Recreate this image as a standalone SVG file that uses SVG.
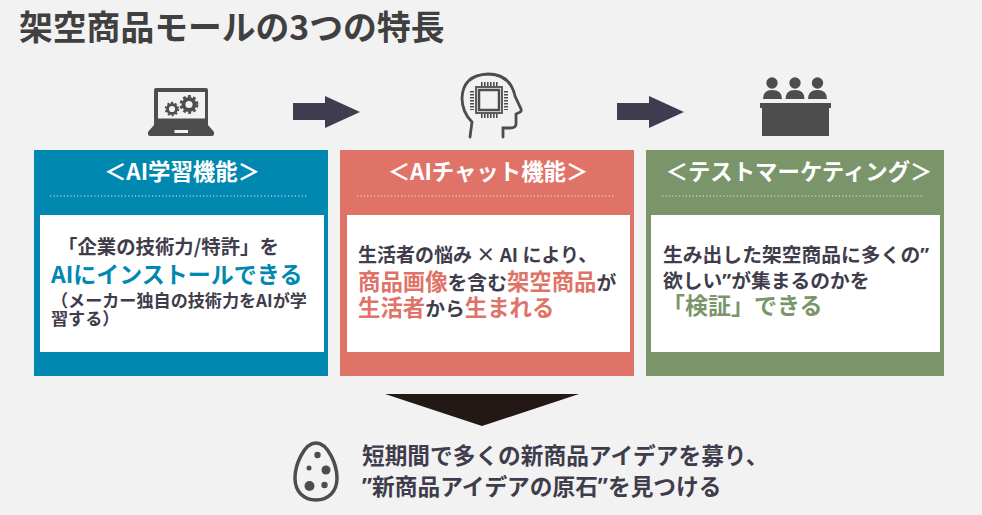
<svg xmlns="http://www.w3.org/2000/svg" width="982" height="515" viewBox="0 0 982 515">
<style>
text{font-family:"Noto Sans CJK JP","Noto Sans",sans-serif;font-weight:700;fill:#404040}
.h{fill:#fff;font-size:22.4px;text-anchor:middle}
.b{font-size:19px;fill:#3f3d4c}
.w{font-size:19.800px}
.s{font-size:17.100px;fill:#3f3d4c}
.l{font-size:23px}
.r{font-size:22.400px}
.q{font-family:"Noto Sans",sans-serif}
.blue{fill:#0088b0}.red{fill:#e07367}.green{fill:#7b956b}
.dot{stroke:#e6e6e6;stroke-width:1.2;stroke-dasharray:1.2 2.2;fill:none}
.ic{fill:#4d4d4d}
.ln{fill:none;stroke:#4d4d4d}
.arr{fill:#3f3d4f}
.c{font-size:22.7px;fill:#3f3d4c}
</style>
<rect width="982" height="515" fill="#f2f2f2"/>
<text x="19" y="40" font-size="33.800" style="fill:#404040">架空商品モールの3つの特長</text>
<g id="connectors">
<path class="arr" d="M293 103H325V96L360 112L325 128V120H293Z"/>
<path class="arr" d="M617 103H649V96L684 112L649 128V120H617Z"/>
<path fill="#231815" d="M385 394H579L482 426Z"/>
</g>
<g id="icon-laptop">
<path class="ic" d="M156 88H206Q208 88 208 90V125L214 132V134Q214 136 212 136H150Q148 136 148 134V132L154 125V90Q154 88 156 88Z"/>
<rect x="158" y="92" width="47" height="26.500" fill="#f2f2f2"/>
<rect x="174.500" y="130" width="13.500" height="3" fill="#f2f2f2"/>
<circle cx="172" cy="109" r="4.500" fill="none" stroke="#4d4d4d" stroke-width="2.800"/>
<circle cx="172" cy="109" r="6.300" fill="none" stroke="#4d4d4d" stroke-width="1.800" stroke-dasharray="2 2"/>
<circle cx="189" cy="104.500" r="5.500" fill="none" stroke="#4d4d4d" stroke-width="3.800"/>
<circle cx="189" cy="104.500" r="8.300" fill="none" stroke="#4d4d4d" stroke-width="2.200" stroke-dasharray="3 2.400"/>
</g>
<g id="icon-head">
<path class="ln" stroke-width="2.800" d="M470 137L472 122Q462 112 462 98Q463 75 488 74Q510 74 515 96L521 109Q522 112 518 113L516 114V124Q516 128 510 128H503V137" style="stroke-linecap:round"/>
<rect x="479" y="90" width="20" height="20" fill="none" stroke="#4d4d4d" stroke-width="2.500"/>
<rect x="476" y="87" width="26" height="26" fill="none" stroke="#4d4d4d" stroke-width="1.800"/>
<path class="ln" stroke-width="4" stroke-dasharray="1.600 1.400" d="M472 91V110M506 91V110M481 84H498M481 116H498"/>
</g>
<g id="icon-panel">
<circle cx="772" cy="83" r="5.700" class="ic"/><circle cx="795" cy="83" r="5.700" class="ic"/><circle cx="817.500" cy="83" r="5.700" class="ic"/>
<path class="ic" d="M763 99Q763 90 772 90Q782 90 782 99ZM785.500 99Q785.500 90 795 90Q804.500 90 804.500 99ZM808 99Q808 90 817.500 90Q827 90 827 99Z"/>
<path class="ic" d="M760 103H831V108H829V136H762V108H760Z"/>
</g>
<g id="node-ai-learning">
<rect x="34" y="150" width="294" height="226" fill="#0088b0"/>
<text class="h" x="182" y="180">＜AI学習機能＞</text>
<line class="dot" x1="50" y1="196" x2="307" y2="196"/>
<rect x="40" y="215" width="284" height="137" fill="#fff"/>
<text class="b" x="58" y="254" style="font-size:19.400px">「企業の技術力/特許」を</text>
<text class="l blue" x="51" y="283">AIにインストールできる</text>
<text class="s" x="51" y="307">（メーカー独自の技術力をAIが学</text>
<text class="s" x="51" y="325">習する）</text>
</g>
<g id="node-ai-chat">
<rect x="340" y="150" width="294" height="226" fill="#e07367"/>
<text class="h" x="488" y="180">＜AIチャット機能＞</text>
<line class="dot" x1="357" y1="196" x2="614" y2="196"/>
<rect x="347" y="215" width="283" height="137" fill="#fff"/>
<text class="b" x="358" y="262">生活者の悩み × AI により、</text>
<text x="358" y="290" class="b w"><tspan class="red r">商品画像</tspan>を含む<tspan class="red r">架空商品</tspan>が</text>
<text x="358" y="316" class="b w"><tspan class="red r">生活者</tspan>から<tspan class="red r">生まれる</tspan></text>
</g>
<g id="node-test-marketing">
<rect x="646" y="150" width="298" height="226" fill="#7b956b"/>
<text class="h" x="799" y="180">＜テストマーケティング＞</text>
<line class="dot" x1="662" y1="196" x2="924" y2="196"/>
<rect x="651" y="215" width="289" height="137" fill="#fff"/>
<text class="b w" x="663" y="262">生み出した架空商品に多くの<tspan class="q">”</tspan></text>
<text class="b w" x="663" y="288">欲しい<tspan class="q">”</tspan>が集まるのかを</text>
<text class="l green" x="662" y="314">「検証」できる</text>
</g>
<g id="icon-egg">
<path fill="none" stroke="#4d4d4d" stroke-width="3.500" d="M316 443C328 443 337 465 337 478C337 492 328 500 316 500C304 500 295 492 295 478C295 465 304 443 316 443Z"/>
<circle cx="317.500" cy="455" r="3.200" class="ic"/><circle cx="309" cy="468" r="2.500" class="ic"/><circle cx="326" cy="470" r="4.500" class="ic"/><circle cx="309.500" cy="486" r="5" class="ic"/><circle cx="324.500" cy="485" r="3.200" class="ic"/>
</g>
<g id="conclusion">
<text class="c" x="362" y="464">短期間で多くの新商品アイデアを募り、</text>
<text class="c" x="362" y="495"><tspan class="q">”</tspan>新商品アイデアの原石<tspan class="q">”</tspan>を見つける</text>
</g>
</svg>
